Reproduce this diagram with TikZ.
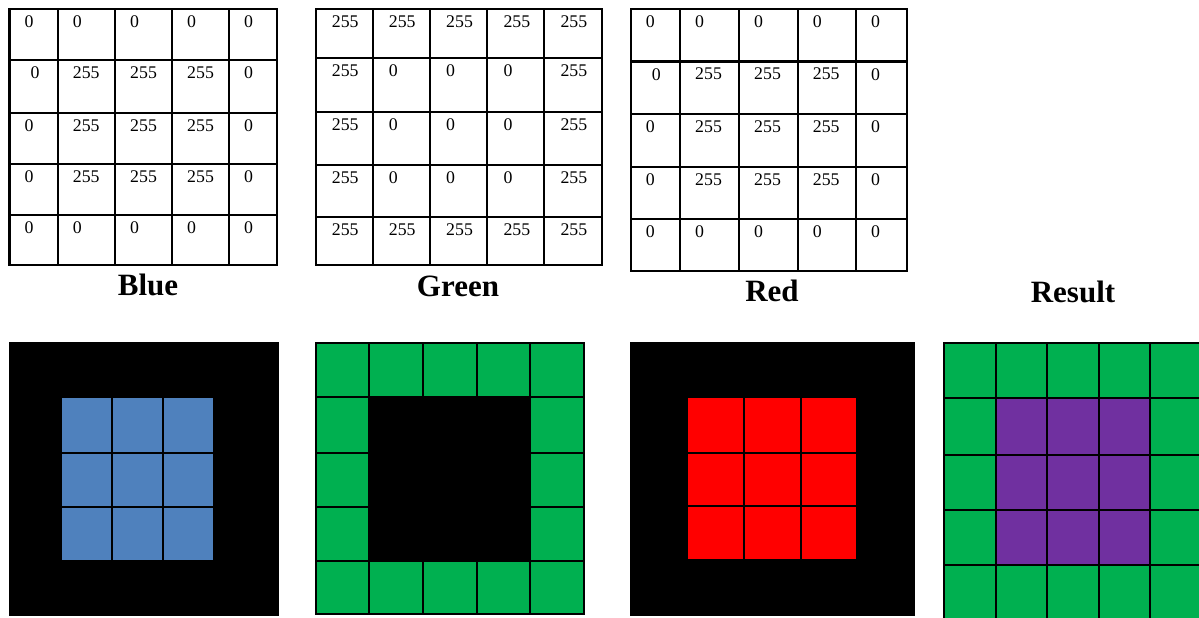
\documentclass[tikz,border=0pt]{standalone}
\usepackage{fontspec}
\setmainfont{Liberation Serif}
\usepackage{tikz}
\usetikzlibrary{positioning}
\definecolor{chanblue}{RGB}{79, 129, 189}
\definecolor{changreen}{RGB}{0, 176, 80}
\definecolor{chanred}{RGB}{255, 0, 0}
\definecolor{mixpurple}{RGB}{112, 48, 160}

\tikzset{
  cellnum/.style={anchor=north west, inner sep=0pt, font=\fontsize{17.8}{20}\selectfont},
  chantitle/.style={anchor=base, inner sep=0pt, font=\fontsize{31}{36}\selectfont\bfseries},
  tableline/.style={line width=2.2pt},
  pixline/.style={line width=2pt}
}

\begin{document}
\begin{tikzpicture}[x=1pt, y=-1pt]
    \useasboundingbox (0,0) rectangle (1199,618);

    % blue values
    \foreach \x in {57.7,115,172,229} \draw[tableline] (\x,9) -- (\x,265);
    \foreach \y in {60,113,164,215} \draw[tableline] (9.5,\y) -- (277,\y);
    \draw[tableline] (9.5,9) rectangle (277,265);
    \foreach \x [count=\c] in {9.5,57.7,115,172,229}
        \foreach \y [count=\r] in {9,60,113,164,215} {
            \pgfmathtruncatemacro\inner{(\c>1)&&(\c<5)&&(\r>1)&&(\r<5)}
            \pgfmathsetmacro\dx{(\c==1 && \r==2) ? 21 : 15}
            \node[cellnum] (blue-\r-\c) at (\x+\dx,\y+6.5) {\ifnum\inner=1 255\else 0\fi};
        }

    % green values
    \foreach \x in {372.7,430,487.3,544.3} \draw[tableline] (\x,9) -- (\x,265);
    \foreach \y in {58.3,111.7,165,216.7} \draw[tableline] (315.7,\y) -- (601.7,\y);
    \draw[tableline] (315.7,9) rectangle (601.7,265);
    \foreach \x [count=\c] in {315.7,372.7,430,487.3,544.3}
        \foreach \y [count=\r] in {9,58.3,111.7,165,216.7} {
            \pgfmathtruncatemacro\inner{(\c>1)&&(\c<5)&&(\r>1)&&(\r<5)}
            \node[cellnum] (green-\r-\c) at (\x+16,\y+6.5) {\ifnum\inner=1 0\else 255\fi};
        }

    % red values
    \foreach \x in {680,739,797.7,856} \draw[tableline] (\x,9) -- (\x,271);
    \foreach \y in {61.5,114,166.7,219} \draw[tableline] (630.7,\y) -- (906.7,\y);
    \draw[tableline] (630.7,9) rectangle (906.7,271);
    \foreach \x [count=\c] in {630.7,680,739,797.7,856}
        \foreach \y [count=\r] in {9,61.5,114,166.7,219} {
            \pgfmathtruncatemacro\inner{(\c>1)&&(\c<5)&&(\r>1)&&(\r<5)}
            \pgfmathsetmacro\dx{(\c==1 && \r==2) ? 21 : 15}
            \node[cellnum] (red-\r-\c) at (\x+\dx,\y+6.5) {\ifnum\inner=1 255\else 0\fi};
        }

    % titles
    \node[chantitle] (blue-title) at (148,295) {Blue};
    \node[chantitle] (green-title) at (458,296) {Green};
    \node[chantitle] (red-title) at (772,301) {Red};
    \node[chantitle] (result-title) at (1073,302) {Result};

    % blue image
    \fill[black] (9,342) rectangle (279,616);
    \fill[chanblue] (62,398) rectangle (213,560);
    \foreach \x in {112,163} \draw[pixline] (\x,398) -- (\x,560);
    \foreach \y in {453,507} \draw[pixline] (62,\y) -- (213,\y);

    % green image
    \fill[changreen] (315.7,343.3) rectangle (584,614);
    \fill[black] (369.3,396.7) rectangle (530,560.7);
    \foreach \x in {369.3,423,477,530} \draw[pixline] (\x,343.3) -- (\x,614);
    \foreach \y in {396.7,452.7,507,560.7} \draw[pixline] (315.7,\y) -- (584,\y);
    \draw[pixline] (315.7,343.3) rectangle (584,614);

    % red image
    \fill[black] (630,342) rectangle (915,616);
    \fill[chanred] (688,398) rectangle (856,559);
    \foreach \x in {744,801} \draw[pixline] (\x,398) -- (\x,559);
    \foreach \y in {452.7,506} \draw[pixline] (688,\y) -- (856,\y);

    % result image
    \fill[changreen] (944,342.7) rectangle (1202,620);
    \fill[mixpurple] (996,398) rectangle (1150,565);
    \foreach \x in {996,1046.7,1099,1150} \draw[pixline] (\x,342.7) -- (\x,620);
    \foreach \y in {398,454.7,510,565} \draw[pixline] (944,\y) -- (1202,\y);
    \draw[pixline] (944,342.7) rectangle (1202,620);
\end{tikzpicture}
\end{document}
